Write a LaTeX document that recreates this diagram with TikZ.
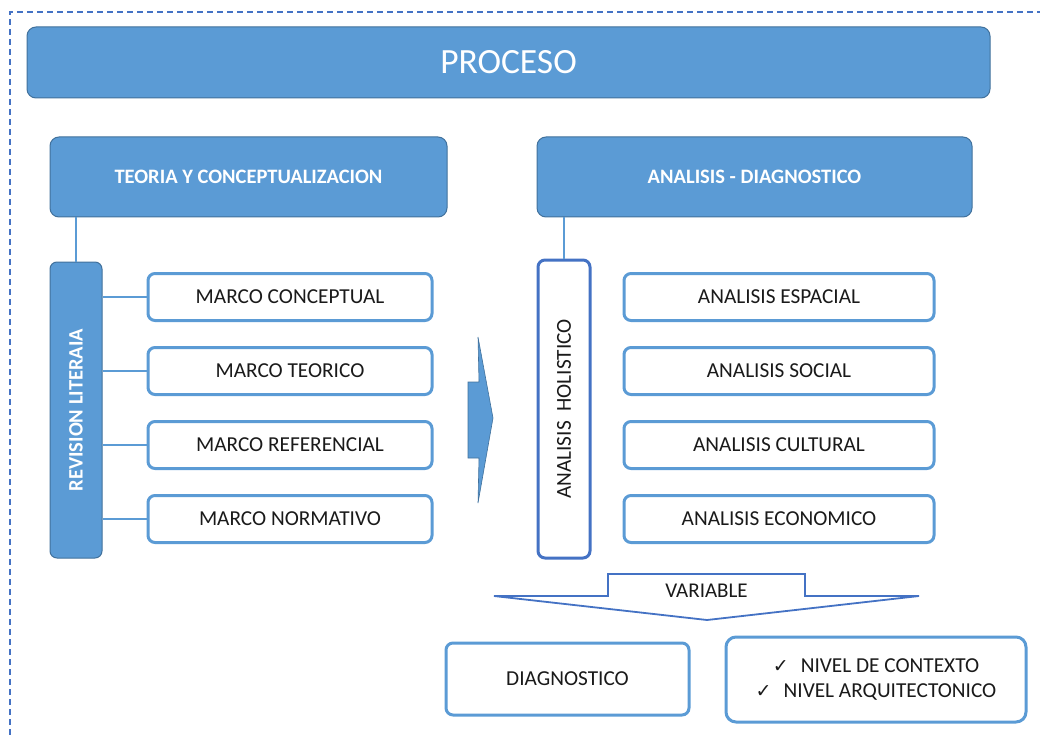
\documentclass[tikz,border=0pt]{standalone}
\usepackage{fontspec}
\setmainfont{Carlito}
\newfontfamily\symfont{DejaVu Sans}
\usetikzlibrary{positioning}

\definecolor{boxblue}{HTML}{5B9BD5}
\definecolor{edgeblue}{HTML}{41719C}
\definecolor{darkblue}{HTML}{4472C4}
\definecolor{txtgray}{HTML}{1A1A1A}

\newcommand{\chk}{{\symfont\fontsize{19}{21}\selectfont\char"2713}}

\begin{document}
\begin{tikzpicture}[x=1pt,y=-1pt,
    headbox/.style={rectangle,
          rounded corners=9pt,
          draw=edgeblue,
          line width=1pt,
          fill=boxblue,
          text=white,
          font=\bfseries\fontsize{20.5}{23}\selectfont},
    itembox/.style={rectangle,
          rounded corners=7pt,
          draw=boxblue,
          line width=3pt,
          fill=white,
          text=txtgray,
          font=\fontsize{21.3}{25}\selectfont,
          minimum height=47pt},
    link/.style={draw=boxblue, line width=1.5pt}]

    \useasboundingbox (0,0) rectangle (1040,735);

    % marco punteado
    \draw[darkblue, line width=1.2pt, dash pattern=on 6pt off 4pt]
        (10,735) -- (10,12) -- (1040,12);

    % cabecera
    \node[headbox,
          minimum width=963pt,
          minimum height=71pt,
          font=\fontsize{35.5}{40}\selectfont
          ] (proceso) at (508.5,62.5) {PROCESO};

    \node[headbox,
          minimum width=397pt,
          minimum height=80pt
          ] (teoria) at (248.5,177) {TEORIA Y CONCEPTUALIZACION};

    \node[headbox,
          minimum width=435pt,
          minimum height=80pt
          ] (analisis) at (754.5,177) {ANALISIS - DIAGNOSTICO};

    % columna izquierda
    \node[headbox,
          rounded corners=7pt,
          minimum width=296pt,
          minimum height=52pt,
          rotate=90
          ] (revision) at (76,410) {REVISION LITERAIA};

    \node[itembox, minimum width=284pt] (mconc) at (290,297) {MARCO CONCEPTUAL};
    \node[itembox, minimum width=284pt] (mteo)  at (290,371) {MARCO TEORICO};
    \node[itembox, minimum width=284pt] (mref)  at (290,445) {MARCO REFERENCIAL};
    \node[itembox, minimum width=284pt] (mnorm) at (290,519) {MARCO NORMATIVO};

    % columna derecha
    \node[itembox,
          draw=darkblue,
          rounded corners=7pt,
          minimum width=298pt,
          minimum height=52pt,
          rotate=90
          ] (holistico) at (564,409) {ANALISIS\ \ HOLISTICO};

    \node[itembox, minimum width=310pt] (aesp) at (779,297) {ANALISIS ESPACIAL};
    \node[itembox, minimum width=310pt] (asoc) at (779,371) {ANALISIS SOCIAL};
    \node[itembox, minimum width=310pt] (acul) at (779,445) {ANALISIS CULTURAL};
    \node[itembox, minimum width=310pt] (aeco) at (779,519) {ANALISIS ECONOMICO};

    % resultados
    \node[itembox,
          minimum width=243pt,
          minimum height=72pt
          ] (diagnostico) at (567.5,679) {DIAGNOSTICO};

    \node[itembox,
          rounded corners=10pt,
          minimum width=300pt,
          minimum height=85pt,
          align=center
          ] (nivel) at (876,679.5)
          {\chk\hspace{12pt}NIVEL DE CONTEXTO\\[0pt]\chk\hspace{12pt}NIVEL ARQUITECTONICO};

    % flecha hacia la derecha
    \draw[fill=boxblue, draw=edgeblue, line width=0.6pt]
        (468,382) -- (479,382) -- (478,337) -- (493,418) -- (478,503)
        -- (479,458) -- (468,458) -- cycle;

    % flecha VARIABLE
    \draw[fill=white, draw=darkblue, line width=1.8pt, line join=miter]
        (608,596) -- (608,574) -- (805,574) -- (805,596) -- (919,596)
        -- (707,620) -- (494,596) -- cycle;
    \node[text=txtgray, font=\fontsize{21}{24}\selectfont] (variable) at (706.5,591) {VARIABLE};

    % conectores
    \path[link]
    (revision.east) -- (revision.east |- teoria.south)
    (holistico.east) -- (holistico.east |- analisis.south)
    (revision.south |- mconc.west) -- (mconc.west)
    (revision.south |- mteo.west) -- (mteo.west)
    (revision.south |- mref.west) -- (mref.west)
    (revision.south |- mnorm.west) -- (mnorm.west);

\end{tikzpicture}
\end{document}
